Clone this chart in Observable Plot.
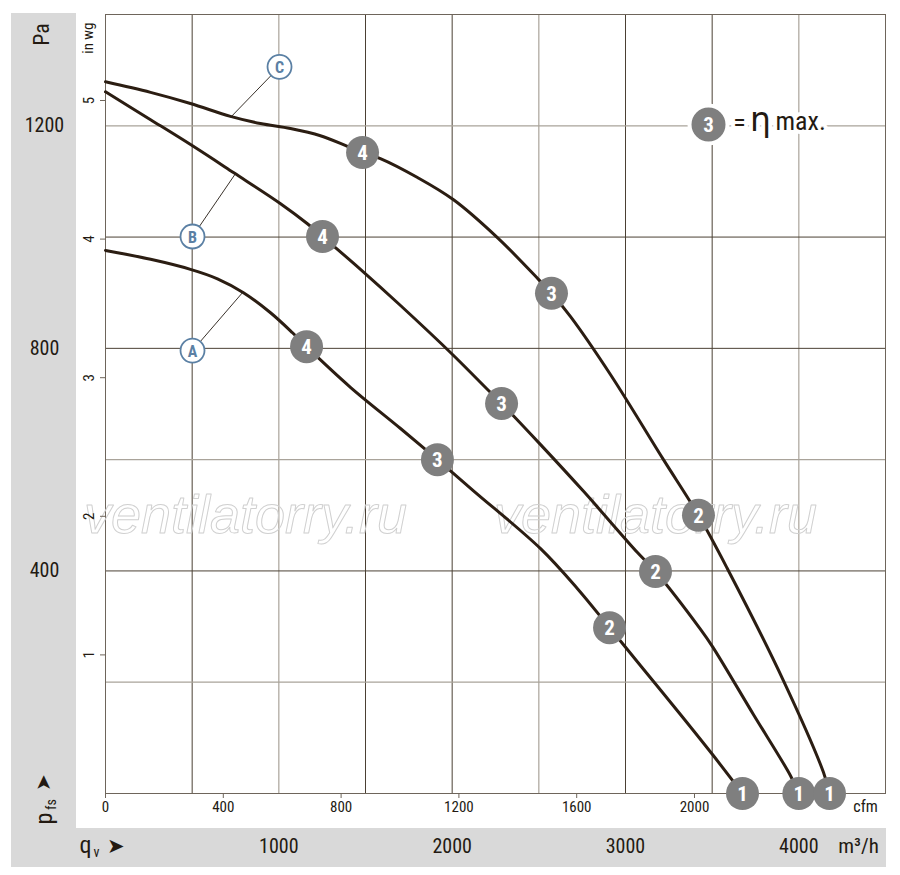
<!DOCTYPE html>
<html><head><meta charset="utf-8">
<script src="https://cdn.jsdelivr.net/npm/d3@7"></script>
<script src="https://cdn.jsdelivr.net/npm/@observablehq/plot@0.6"></script>
<style>
body{margin:0;background:#fff;}
#wrap{position:relative;width:900px;height:875px;}
.band{position:absolute;background:#d9d9d9;}
#chart{position:absolute;left:0;top:0;}
#chart svg{display:block;}
</style></head><body>
<div id="wrap">
<div class="band" style="left:11px;top:13px;width:65px;height:815px"></div>
<div class="band" style="left:11px;top:828px;width:875px;height:39px"></div>
<div id="chart"></div>
</div>
<script>
// unit conversions
const CFM = 1.699;   // m³/h per cfm
const INWG = 249.09; // Pa per in wg

// tick labels
const cfmTicks = [0, 400, 800, 1200, 1600, 2000];
const inwgTicks = [1, 2, 3, 4, 5];
const paTicks = [400, 800, 1200];
const m3hTicks = [1000, 2000, 3000, 4000];
const gridXDark = [500, 1500, 2000, 3000, 3500];
const gridXLight = [1000, 2500, 4000];
const gridYDark = [400, 800, 1000];
const gridYLight = [200, 600, 1200];

// curves (q in m³/h, p in Pa)
const qA = [0, 260, 490, 646, 796, 952, 1079, 1160, 1413, 1702, 1915, 2123, 2510, 2723, 2908, 3086, 3317, 3502, 3675];
const pA = [976, 960, 942, 925, 900, 864, 828, 803, 730, 656, 600, 544, 440, 368, 298, 230, 142, 70, 0];
const qB = [0, 260, 502, 738, 1010, 1165, 1252, 1471, 1702, 2002, 2204, 2285, 2510, 2758, 3069, 3173, 3433, 3502, 3738, 3952, 4000];
const pB = [1261, 1211, 1164, 1116, 1060, 1024, 1001, 942, 877, 789, 726, 701, 627, 543, 433, 399, 295, 264, 142, 32, 0];
const qC = [0, 260, 490, 721, 894, 1067, 1240, 1396, 1483, 1586, 1800, 2008, 2261, 2498, 2573, 2683, 2913, 3219, 3421, 3588, 3911, 4142, 4177];
const pC = [1279, 1260, 1240, 1217, 1204, 1195, 1182, 1163, 1152, 1141, 1107, 1067, 999, 924, 899, 857, 753, 600, 500, 404, 203, 38, 0];

// operating point markers
const markerCurve = ["A","A","A","A","B","B","B","B","C","C","C","C"];
const markerNum = [4, 3, 2, 1, 4, 3, 2, 1, 4, 3, 2, 1];
const markerQ = [1160, 1915, 2908, 3675, 1252, 2285, 3173, 4000, 1483, 2573, 3421, 4177];
const markerP = [803, 600, 298, 0, 1001, 701, 399, 0, 1152, 899, 500, 0];

// curve tags and leaders
const tagName = ["A", "B", "C"];
const tagQ = [502, 502, 1004];
const tagP = [796, 1001, 1306];
const tagToQ = [790, 750, 721];
const tagToP = [900, 1114, 1215];

const curveRows = [
  ...qA.map((q, i) => ({name: "A", q, p: pA[i]})),
  ...qB.map((q, i) => ({name: "B", q, p: pB[i]})),
  ...qC.map((q, i) => ({name: "C", q, p: pC[i]}))
];
const markers = markerQ.map((q, i) => ({curve: markerCurve[i], n: markerNum[i], q, p: markerP[i]}));
const tags = tagName.map((t, i) => ({t, q: tagQ[i], p: tagP[i], q2: tagToQ[i], p2: tagToP[i]}));

const FONT = "'Roboto Condensed', 'Liberation Sans Narrow', 'Liberation Sans', Arial, sans-serif";
const INK = "#231a12";
const DARK = "#4b4034";
const LIGHT = "#a9a39a";
const GREY = "#7f7f7f";
const BLUE = "#5b80a4";
const C = {textAnchor: "middle", lineAnchor: "middle"};

const chart = Plot.plot({
  width: 900, height: 875,
  marginLeft: 105, marginRight: 15, marginTop: 14, marginBottom: 82,
  x: {domain: [0, 4500]},
  y: {domain: [0, 1400]},
  style: {fontFamily: FONT, color: INK, background: "transparent", overflow: "visible"},
  marks: [
    Plot.ruleX(gridXDark, {stroke: DARK, strokeWidth: 1}),
    Plot.ruleX(gridXLight, {stroke: LIGHT, strokeWidth: 1.2}),
    Plot.ruleY(gridYDark, {stroke: DARK, strokeWidth: 1}),
    Plot.ruleY(gridYLight, {stroke: LIGHT, strokeWidth: 1.2}),
    Plot.frame({stroke: "#6e655b"}),
    // watermark
    Plot.text(["ventilatorry.ru"], {...C, frameAnchor: "top-left", dx: 140, dy: 501, fontSize: 54, fontStyle: "italic", fontWeight: 300, fill: "none", stroke: "#d0d0d0", strokeWidth: 1, fontFamily: "'Liberation Sans', sans-serif"}),
    Plot.text(["ventilatorry.ru"], {...C, frameAnchor: "top-left", dx: 550, dy: 501, fontSize: 54, fontStyle: "italic", fontWeight: 300, fill: "none", stroke: "#d0d0d0", strokeWidth: 1, fontFamily: "'Liberation Sans', sans-serif"}),
    // inner axes
    Plot.axisX(cfmTicks.map(c => c * CFM), {anchor: "bottom", tickSize: 5, tickPadding: 3, fontSize: 15, stroke: "#6e655b", tickFormat: d => String(Math.round(d / CFM)), label: null}),
    Plot.axisY(inwgTicks.map(v => v * INWG), {anchor: "left", tickSize: 5, tickPadding: 7, tickRotate: -90, fontSize: 15, stroke: "#6e655b", tickFormat: d => String(Math.round(d / INWG)), label: null}),
    Plot.text(["cfm"], {...C, frameAnchor: "bottom-right", dx: -20, dy: 13, fontSize: 16}),
    Plot.text(["in wg"], {textAnchor: "end", lineAnchor: "middle", frameAnchor: "top-left", dx: -17, dy: 8, rotate: -90, fontSize: 15}),
    // outer Pa axis
    Plot.text(paTicks, {...C, y: d => d, text: d => String(d), frameAnchor: "left", dx: -61, fontSize: 20}),
    Plot.text(["Pa"], {...C, frameAnchor: "top-left", dx: -64, dy: 20, rotate: -90, fontSize: 22}),
    Plot.text(["➤"], {...C, frameAnchor: "bottom-left", dx: -62, dy: -11, rotate: -90, fontSize: 20}),
    Plot.text(["p"], {...C, frameAnchor: "bottom-left", dx: -61, dy: 25, rotate: -90, fontSize: 24}),
    Plot.text(["fs"], {...C, frameAnchor: "bottom-left", dx: -54, dy: 11, rotate: -90, fontSize: 14}),
    // outer m³/h axis
    Plot.text(m3hTicks, {...C, x: d => d, text: d => String(d), frameAnchor: "bottom", dy: 53, fontSize: 20}),
    Plot.text(["m³/h"], {...C, frameAnchor: "bottom-right", dx: -27, dy: 53, fontSize: 21}),
    Plot.text(["q"], {...C, frameAnchor: "bottom-left", dx: -20, dy: 52, fontSize: 24}),
    Plot.text(["v"], {...C, frameAnchor: "bottom-left", dx: -9, dy: 59, fontSize: 14}),
    Plot.text(["➤"], {...C, frameAnchor: "bottom-left", dx: 10, dy: 53, fontSize: 21}),
    // leaders
    Plot.link(tags, {x1: "q", y1: "p", x2: "q2", y2: "p2", stroke: INK, strokeWidth: 0.9}),
    // curves
    Plot.line(curveRows, {x: "q", y: "p", z: "name", stroke: "#2b1d12", strokeWidth: 3, curve: "catmull-rom"}),
    // tags
    Plot.dot(tags, {x: "q", y: "p", r: 12, fill: "white", stroke: BLUE, strokeWidth: 1.8}),
    Plot.text(tags, {x: "q", y: "p", text: "t", fill: BLUE, fontWeight: "bold", fontSize: 16, dy: 1}),
    // markers
    Plot.dot(markers, {x: "q", y: "p", r: 16.5, fill: GREY}),
    Plot.text(markers, {x: "q", y: "p", text: "n", fill: "white", fontWeight: "bold", fontSize: 21, dy: 1}),
    // legend
    Plot.dot([3], {frameAnchor: "top-right", dx: -177, dy: 110, r: 19, fill: GREY, stroke: "white", strokeWidth: 4}),
    Plot.text(["3"], {...C, frameAnchor: "top-right", dx: -177, dy: 111, fill: "white", fontWeight: "bold", fontSize: 21}),
    Plot.text(["="], {...C, frameAnchor: "top-right", dx: -146, dy: 108, fontSize: 26, fill: INK, stroke: "white", strokeWidth: 8, paintOrder: "stroke"}),
    Plot.text(["η"], {...C, frameAnchor: "top-right", dx: -125, dy: 106, fontSize: 33, fill: INK, stroke: "white", strokeWidth: 8, paintOrder: "stroke", fontFamily: "'DejaVu Sans', sans-serif"}),
    Plot.text(["max."], {textAnchor: "start", lineAnchor: "middle", frameAnchor: "top-right", dx: -110, dy: 107, fontSize: 26, fill: INK, stroke: "white", strokeWidth: 8, paintOrder: "stroke"})
  ]
});
document.getElementById("chart").appendChild(chart);
</script>
</body></html>
